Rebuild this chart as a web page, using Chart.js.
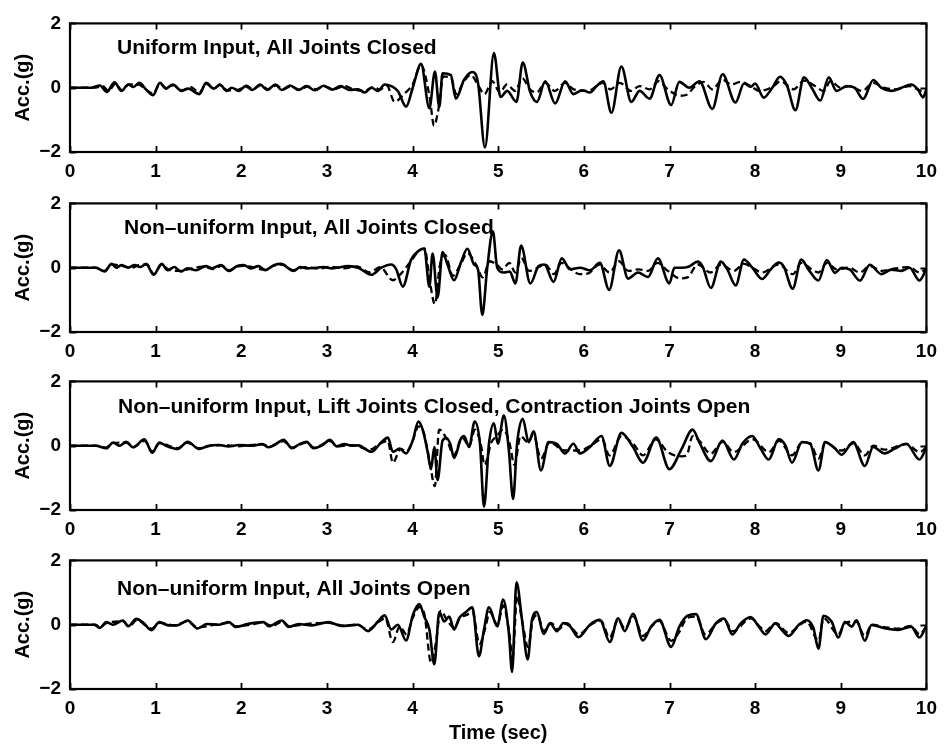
<!DOCTYPE html>
<html>
<head>
<meta charset="utf-8">
<script src="https://cdn.jsdelivr.net/npm/chart.js@4.4.1/dist/chart.umd.min.js"></script>
<style>
  html, body { margin: 0; padding: 0; background: #fff; }
  body { width: 945px; height: 750px; position: relative; overflow: hidden; }
  canvas { position: absolute; left: 0; }
</style>
</head>
<body>
<canvas id="panel0"></canvas>
<canvas id="panel1"></canvas>
<canvas id="panel2"></canvas>
<canvas id="panel3"></canvas>
<script>
// Tick values shared by all four panels
const timeTicks = [0, 1, 2, 3, 4, 5, 6, 7, 8, 9, 10];
const accTicks = [-2, 0, 2];

const panelTitles = [
  'Uniform Input, All Joints Closed',
  'Non\u2013uniform Input, All Joints Closed',
  'Non\u2013uniform Input, Lift Joints Closed, Contraction Joints Open',
  'Non\u2013uniform Input, All Joints Open'
];

// Acceleration records, [time (s), acceleration (g)]
const uniformClosedSolid = [
  [0,0],[0.25,0],[0.35,0.07],[0.43,-0.13],[0.52,0.17],[0.6,-0.1],[0.68,0.1],[0.74,0.02],[0.81,0.15],[0.89,-0.06],
  [0.97,-0.23],[1.05,0.15],[1.12,-0.03],[1.2,0.1],[1.3,-0.1],[1.38,-0.03],[1.51,-0.2],[1.59,0.15],[1.68,-0.03],[1.75,0.1],
  [1.83,-0.1],[1.89,0.0],[1.97,-0.1],[2.05,0.05],[2.13,-0.07],[2.22,0.1],[2.3,-0.07],[2.4,0.1],[2.47,-0.07],[2.57,0.07],
  [2.67,-0.07],[2.76,0.05],[2.86,-0.08],[2.96,0.06],[3.06,-0.06],[3.16,0.05],[3.26,-0.07],[3.364,-0.05],[3.441,-0.15],[3.519,0],
  [3.596,-0.1],[3.674,0.1],[3.751,0.05],[3.828,-0.1],[3.925,-0.59],[4.002,0.0],[4.099,0.74],[4.196,-0.64],[4.261,0.5],[4.312,-0.6],
  [4.35,0.45],[4.447,0.39],[4.505,-0.34],[4.602,0.25],[4.698,0.49],[4.764,0.15],[4.845,-1.86],[4.95,1.08],[5.027,-0.29],[5.104,-0.1],
  [5.213,-0.44],[5.286,0.78],[5.375,-0.15],[5.452,-0.44],[5.549,0.2],[5.665,-0.49],[5.781,0.2],[5.878,-0.2],[5.98,-0.08],[6.071,-0.15],
  [6.148,0.05],[6.226,0.2],[6.322,-0.78],[6.438,0.66],[6.554,-0.44],[6.651,-0.1],[6.767,-0.34],[6.883,0.39],[7.019,-0.54],[7.115,0.18],
  [7.23,0],[7.35,0.2],[7.5,-0.66],[7.62,0.42],[7.77,-0.46],[7.87,0.13],[7.95,0.03],[8.0,0.13],[8.1,-0.31],[8.2,0],
  [8.29,0.34],[8.37,0.08],[8.47,-0.7],[8.57,0.32],[8.66,0],[8.76,-0.4],[8.86,0.32],[8.95,-0.1],[9.07,0.05],[9.16,0],
  [9.26,-0.35],[9.38,0.24],[9.47,0],[9.59,-0.1],[9.71,0],[9.82,0.1],[9.9,-0.05],[9.96,-0.3],[10,-0.05]
];
const uniformClosedDashed = [
  [0,0],[0.3,0],[0.38,0.05],[0.45,-0.1],[0.53,0.12],[0.61,-0.08],[0.69,0.1],[0.8,0.1],[0.88,-0.05],[0.97,-0.18],
  [1.05,0.12],[1.13,-0.02],[1.21,0.08],[1.31,-0.08],[1.41,0.02],[1.51,-0.15],[1.59,0.12],[1.68,-0.03],[1.75,0.08],[1.84,-0.08],
  [1.97,-0.06],[2.06,0.06],[2.14,-0.05],[2.23,0.08],[2.31,-0.05],[2.41,0.07],[2.49,-0.05],[2.58,0.05],[2.68,-0.06],[2.78,0.04],
  [2.87,-0.05],[2.97,0.04],[3.08,-0.05],[3.2,0.05],[3.32,-0.06],[3.44,-0.1],[3.54,0.02],[3.62,-0.06],[3.7,0.06],[3.79,-0.44],
  [3.9,-0.2],[4.0,0.1],[4.1,0.7],[4.2,-0.3],[4.25,-1.18],[4.3,-0.7],[4.36,0.35],[4.45,0.3],[4.51,-0.2],[4.6,0.2],
  [4.68,0.4],[4.76,0.1],[4.84,-0.2],[4.93,0.2],[5.02,-0.15],[5.1,0.1],[5.2,-0.1],[5.28,0.3],[5.37,-0.05],[5.45,-0.15],
  [5.55,0.15],[5.66,-0.1],[5.78,0.15],[5.88,-0.05],[6.05,-0.1],[6.15,0.05],[6.22,0.15],[6.31,-0.05],[6.42,0.15],[6.55,-0.1],
  [6.65,0.05],[6.77,-0.05],[6.87,0.2],[6.98,-0.05],[7.12,-0.25],[7.2,-0.22],[7.3,0.05],[7.4,0.18],[7.5,-0.05],[7.62,0.25],
  [7.72,0.1],[7.83,0.18],[7.95,0.05],[8.05,-0.1],[8.2,0.02],[8.3,0.2],[8.45,-0.05],[8.57,0.22],[8.7,0.05],[8.8,-0.1],
  [8.88,0.2],[9.0,0.0],[9.1,0.05],[9.25,-0.1],[9.38,0.15],[9.5,0.0],[9.65,-0.05],[9.8,0.05],[9.95,-0.1],[10,-0.05]
];

const nonUniformClosedSolid = [
  [0,0],[0.3,0],[0.406,-0.12],[0.484,0.12],[0.54,0.0],[0.6,0.08],[0.68,0.0],[0.754,0.08],[0.82,0.02],[0.89,0.12],
  [0.975,-0.22],[1.071,0.12],[1.14,-0.08],[1.22,0.02],[1.295,-0.12],[1.37,-0.02],[1.47,-0.08],[1.585,0.05],[1.66,-0.02],[1.76,0.08],
  [1.856,-0.1],[1.953,0.05],[2.03,0.08],[2.11,-0.02],[2.2,0.05],[2.28,-0.08],[2.38,0.08],[2.47,0.12],[2.54,0.0],[2.61,-0.1],
  [2.69,0.02],[2.77,-0.02],[2.87,0.0],[2.96,0.02],[3.06,-0.02],[3.25,0.05],[3.364,0],[3.519,-0.22],[3.635,0],[3.751,0.1],
  [3.809,-0.05],[3.886,-0.59],[3.983,0.25],[4.079,0.54],[4.137,0.59],[4.196,-0.59],[4.234,0.44],[4.292,-0.93],[4.35,0.49],[4.408,0.1],
  [4.485,-0.39],[4.563,0.15],[4.64,0.59],[4.718,0.1],[4.764,-0.05],[4.814,-1.47],[4.872,0],[4.938,1.13],[4.988,0],[5.066,-0.15],
  [5.135,-0.12],[5.201,-0.49],[5.267,0.69],[5.375,-0.49],[5.472,0.05],[5.538,0.1],[5.646,-0.44],[5.742,0.29],[5.839,-0.05],[5.955,0],
  [6.071,-0.08],[6.187,0.15],[6.295,-0.69],[6.411,0.54],[6.516,-0.34],[6.632,-0.15],[6.748,-0.29],[6.864,0.29],[6.999,-0.49],[7.057,0],
  [7.135,0],[7.23,0.04],[7.328,0.19],[7.386,0.04],[7.483,-0.63],[7.599,0.19],[7.676,-0.06],[7.773,-0.55],[7.869,0.25],[7.966,0],
  [8.082,-0.35],[8.179,-0.06],[8.275,0.16],[8.333,0.04],[8.438,-0.65],[8.539,0.25],[8.623,-0.06],[8.739,-0.4],[8.836,0.24],[8.933,-0.16],
  [9.01,0],[9.107,-0.06],[9.223,-0.4],[9.339,0.09],[9.474,-0.2],[9.591,-0.06],[9.707,-0.1],[9.803,0],[9.919,-0.4],[9.996,-0.06]
];
const nonUniformClosedDashed = [
  [0,0],[0.3,0],[0.4,-0.1],[0.49,0.1],[0.6,0.06],[0.72,0.0],[0.8,0.08],[0.9,0.1],[0.98,-0.2],[1.07,0.1],
  [1.15,-0.06],[1.3,-0.1],[1.42,-0.02],[1.55,0.03],[1.68,-0.04],[1.77,0.06],[1.86,-0.08],[1.96,0.04],[2.05,0.06],[2.18,-0.02],
  [2.28,-0.06],[2.38,0.06],[2.48,0.1],[2.6,-0.08],[2.75,0.02],[2.9,-0.03],[3.05,0.03],[3.2,-0.02],[3.35,0.04],[3.5,-0.15],
  [3.62,0.02],[3.77,-0.39],[3.86,-0.2],[3.98,0.2],[4.08,0.55],[4.14,0.6],[4.2,-0.4],[4.26,-1.13],[4.32,0.1],[4.38,0.4],
  [4.47,-0.25],[4.56,0.1],[4.64,0.45],[4.74,0.1],[4.82,-0.3],[4.9,0.2],[4.98,0.1],[5.05,-0.05],[5.13,0.15],[5.2,-0.15],
  [5.27,0.3],[5.36,-0.1],[5.46,0.0],[5.55,0.1],[5.65,-0.2],[5.74,0.15],[5.85,-0.05],[5.95,-0.2],[6.05,-0.18],[6.18,0.1],
  [6.3,-0.15],[6.41,0.2],[6.52,-0.1],[6.64,-0.05],[6.75,-0.1],[6.86,0.15],[6.98,-0.1],[7.12,-0.33],[7.21,-0.3],[7.33,0.1],
  [7.48,-0.15],[7.6,0.1],[7.75,-0.1],[7.87,0.12],[7.98,-0.02],[8.08,-0.15],[8.27,0.1],[8.44,-0.2],[8.54,0.15],[8.66,-0.05],
  [8.74,-0.15],[8.84,0.15],[8.95,-0.05],[9.1,0.0],[9.22,-0.15],[9.34,0.05],[9.48,-0.1],[9.62,-0.03],[9.8,0.02],[9.92,-0.15],[10,-0.03]
];

const contractionOpenSolid = [
  [0,0],[0.3,0],[0.425,-0.08],[0.503,0.1],[0.58,0.0],[0.657,0.12],[0.735,-0.05],[0.87,0.2],[0.959,-0.22],[1.044,0.1],
  [1.12,0.0],[1.257,-0.1],[1.373,0.12],[1.508,-0.1],[1.62,0.0],[1.74,0.02],[1.85,-0.02],[1.97,0.02],[2.12,0.0],[2.243,0.05],
  [2.32,-0.05],[2.4,0.05],[2.494,0.18],[2.591,-0.08],[2.68,0.05],[2.765,0.12],[2.842,-0.08],[2.94,0.0],[3.036,0.18],[3.113,-0.02],
  [3.2,0.05],[3.3,0.0],[3.364,0.01],[3.519,-0.19],[3.635,0.11],[3.712,0.25],[3.77,-0.19],[3.848,-0.09],[3.925,-0.24],[4.002,0.16],
  [4.068,0.75],[4.118,0.5],[4.176,-0.19],[4.215,-0.73],[4.254,-0.04],[4.292,-1.07],[4.35,0.16],[4.397,0.24],[4.439,0.06],[4.485,-0.38],
  [4.563,0.21],[4.601,0.3],[4.66,-0.04],[4.725,0.75],[4.787,0.06],[4.834,-1.9],[4.892,0.06],[4.95,0.7],[4.996,0.06],[5.066,0.94],
  [5.124,-0.14],[5.174,-1.66],[5.22,0.06],[5.286,0.84],[5.356,0.11],[5.414,0.45],[5.499,-0.77],[5.588,0.11],[5.684,0.06],[5.781,-0.24],
  [5.878,0.06],[5.955,-0.24],[6.071,-0.04],[6.206,0.3],[6.303,-0.63],[6.438,0.4],[6.574,-0.04],[6.69,-0.53],[6.845,0.25],[6.999,-0.73],
  [7.135,-0.14],[7.27,0.5],[7.347,0.11],[7.483,-0.48],[7.618,0.16],[7.753,-0.43],[7.85,0.06],[7.966,0.3],[8.063,-0.09],[8.159,-0.43],
  [8.275,0.21],[8.353,0.01],[8.43,-0.53],[8.546,0.11],[8.643,0.06],[8.739,-0.77],[8.817,0.11],[8.933,-0.09],[9.01,-0.28],[9.145,0.11],
  [9.281,-0.63],[9.378,-0.04],[9.513,-0.24],[9.629,-0.09],[9.765,0.06],[9.919,-0.43],[9.996,-0.09]
];
const contractionOpenDashed = [
  [0,0],[0.3,0],[0.42,-0.06],[0.5,0.08],[0.66,0.1],[0.74,-0.04],[0.87,0.15],[0.96,-0.18],[1.05,0.08],[1.26,-0.08],
  [1.37,0.1],[1.5,-0.08],[1.65,0],[1.8,0.02],[1.95,-0.02],[2.1,0.02],[2.25,0.04],[2.33,-0.03],[2.49,0.14],[2.59,-0.06],
  [2.76,0.1],[2.85,-0.06],[3.04,0.14],[3.12,-0.02],[3.3,0.02],[3.5,-0.12],[3.63,0.08],[3.71,0.15],[3.77,-0.53],[3.86,-0.1],
  [3.93,-0.18],[4.0,0.15],[4.07,0.6],[4.13,0.4],[4.2,-0.5],[4.26,-1.26],[4.31,0.5],[4.4,0.2],[4.48,-0.3],[4.58,0.25],
  [4.66,0.0],[4.73,0.5],[4.8,0.0],[4.84,-0.6],[4.92,0.1],[4.98,0.3],[5.06,0.5],[5.13,0.1],[5.19,-0.6],[5.26,0.3],
  [5.35,0.1],[5.41,0.35],[5.5,-0.4],[5.6,0.1],[5.78,-0.15],[5.95,-0.15],[6.08,0.0],[6.21,0.2],[6.3,-0.3],[6.44,0.3],
  [6.58,0.05],[6.69,-0.3],[6.84,0.2],[6.98,-0.2],[7.14,-0.33],[7.2,-0.3],[7.27,0.3],[7.35,0.15],[7.48,-0.25],[7.62,0.12],
  [7.75,-0.2],[7.97,0.2],[8.16,-0.2],[8.28,0.15],[8.43,-0.3],[8.55,0.1],[8.64,0.08],[8.74,-0.4],[8.82,0.08],[9.01,-0.15],
  [9.15,0.08],[9.28,-0.3],[9.38,0.0],[9.51,-0.12],[9.77,0.05],[9.92,-0.2],[10,-0.05]
];

const allOpenSolid = [
  [0,0],[0.28,0],[0.348,-0.1],[0.425,0.08],[0.5,0.0],[0.619,0.13],[0.68,-0.05],[0.774,0.18],[0.86,0.05],[0.948,-0.17],
  [1.044,0.08],[1.15,-0.02],[1.25,-0.02],[1.373,0.13],[1.489,-0.12],[1.6,0.02],[1.73,0.0],[1.856,0.08],[1.934,-0.07],[2.07,0.02],
  [2.262,0.08],[2.32,-0.05],[2.475,0.13],[2.552,-0.07],[2.67,0.02],[2.82,-0.02],[3.016,0.08],[3.17,-0.04],[3.364,0],[3.48,-0.2],
  [3.596,0.1],[3.674,0.29],[3.751,-0.15],[3.828,0],[3.925,-0.49],[4.002,0.29],[4.079,0.64],[4.137,0.25],[4.196,-0.15],[4.254,-1.23],
  [4.312,0.39],[4.37,0.1],[4.428,0.25],[4.485,-0.15],[4.543,0.2],[4.621,0.39],[4.698,0.54],[4.775,-0.98],[4.834,-0.15],[4.892,0.54],
  [4.988,-0.05],[5.058,0.78],[5.124,-0.25],[5.162,-1.47],[5.213,1.32],[5.278,0.15],[5.344,-1.08],[5.394,0.15],[5.452,0.39],[5.53,-0.29],
  [5.607,0.05],[5.684,-0.2],[5.762,0.05],[5.839,-0.05],[5.936,-0.39],[6.071,0],[6.187,0.15],[6.303,-0.54],[6.4,0.2],[6.477,-0.2],
  [6.574,0.34],[6.69,-0.49],[6.787,-0.05],[6.883,0.15],[7.019,-0.69],[7.115,-0.06],[7.212,0.28],[7.309,0.33],[7.425,-0.45],[7.541,0.04],
  [7.637,0.19],[7.734,-0.3],[7.831,0.04],[7.947,0.24],[8.043,-0.06],[8.121,-0.3],[8.237,0.04],[8.295,-0.11],[8.391,-0.35],[8.507,-0.01],
  [8.604,0.14],[8.681,-0.11],[8.739,-0.75],[8.797,0.28],[8.894,0.09],[8.971,-0.4],[9.049,0.09],[9.126,-0.06],[9.184,0.14],[9.281,-0.5],
  [9.358,-0.01],[9.513,-0.11],[9.667,-0.16],[9.822,-0.06],[9.919,-0.4],[9.996,-0.06]
];
const allOpenDashed = [
  [0,0],[0.3,0],[0.35,-0.08],[0.43,0.06],[0.62,0.1],[0.69,-0.05],[0.78,0.14],[0.95,-0.12],[1.05,0.06],[1.22,-0.02],
  [1.37,0.1],[1.49,-0.08],[1.7,0.0],[1.86,0.06],[1.94,-0.05],[2.1,0.0],[2.26,0.06],[2.36,-0.04],[2.48,0.1],[2.56,-0.05],
  [2.75,0.02],[3.02,0.06],[3.2,-0.03],[3.35,0.0],[3.48,-0.15],[3.6,0.08],[3.68,0.2],[3.77,-0.54],[3.85,-0.05],[3.93,-0.3],
  [4.0,0.2],[4.08,0.55],[4.14,0.3],[4.215,-1.18],[4.27,-0.6],[4.33,0.44],[4.4,0.15],[4.49,-0.1],[4.55,0.2],[4.63,0.3],
  [4.7,0.4],[4.78,-0.6],[4.85,-0.1],[4.9,0.4],[4.99,0.0],[5.06,0.6],[5.12,-0.1],[5.17,-1.0],[5.22,0.9],[5.28,0.1],
  [5.35,-0.7],[5.4,0.1],[5.46,0.3],[5.53,-0.2],[5.62,0.05],[5.7,-0.15],[5.8,0.05],[5.94,-0.3],[6.08,0.0],[6.2,0.12],
  [6.3,-0.4],[6.4,0.15],[6.48,-0.12],[6.58,0.25],[6.69,-0.35],[6.8,-0.03],[6.88,0.12],[7.02,-0.5],[7.12,-0.2],[7.2,0.2],
  [7.31,0.25],[7.42,-0.3],[7.55,0.05],[7.64,0.15],[7.74,-0.2],[7.95,0.2],[8.05,-0.05],[8.12,-0.2],[8.24,0.05],[8.39,-0.25],
  [8.6,0.1],[8.74,-0.5],[8.8,0.2],[8.97,-0.3],[9.05,0.05],[9.18,0.1],[9.28,-0.35],[9.36,0.0],[9.52,-0.08],[9.67,-0.12],
  [9.82,-0.04],[9.92,-0.3],[10,-0.05]
];

const panelSeries = [
  [uniformClosedSolid, uniformClosedDashed],
  [nonUniformClosedSolid, nonUniformClosedDashed],
  [contractionOpenSolid, contractionOpenDashed],
  [allOpenSolid, allOpenDashed]
];

// Layout of the stacked panels (plot-area top edge and caption placement)
const FONT = '"Liberation Sans", Arial, Helvetica, sans-serif';
const PLOT_H = 135;
const PAD_TOP = 14;
const panelTops = [17, 197, 375, 554];
const captionDx = [47, 54, 48, 47];
const captionDy = [31, 31, 32, 35];

// Frame with inward tick marks on all four sides, plus the caption inside the plot
const framePlugin = {
  id: 'frame',
  afterDatasetsDraw(chart, args, opts) {
    const { ctx, chartArea: a, scales } = chart;
    const xs = scales.x, ys = scales.y;
    ctx.save();
    ctx.strokeStyle = '#000';
    ctx.lineWidth = 2.2;
    ctx.strokeRect(a.left, a.top, a.right - a.left, a.bottom - a.top);
    ctx.lineWidth = 1.8;
    ctx.beginPath();
    timeTicks.forEach(t => {
      const px = Math.round(xs.getPixelForValue(t)) + 0.5;
      ctx.moveTo(px, a.bottom); ctx.lineTo(px, a.bottom - 6);
      ctx.moveTo(px, a.top); ctx.lineTo(px, a.top + 6);
    });
    accTicks.forEach(v => {
      const py = Math.round(ys.getPixelForValue(v)) + 0.5;
      ctx.moveTo(a.left, py); ctx.lineTo(a.left + 6, py);
      ctx.moveTo(a.right, py); ctx.lineTo(a.right - 6, py);
    });
    ctx.stroke();
    ctx.fillStyle = '#000';
    ctx.font = 'bold 21px ' + FONT;
    ctx.textBaseline = 'alphabetic';
    ctx.textAlign = 'left';
    ctx.fillText(opts.text, a.left + opts.dx, a.top + opts.dy);
    ctx.restore();
  }
};

function toPoints(arr) {
  return arr.map(([x, y]) => ({ x, y }));
}

function makePanel(i) {
  const isLast = i === panelTops.length - 1;
  const canvas = document.getElementById('panel' + i);
  const height = isLast ? 750 - (panelTops[i] - PAD_TOP) : 178;
  canvas.width = 945;
  canvas.height = height;
  canvas.style.top = (panelTops[i] - PAD_TOP) + 'px';
  const xHeight = height - PAD_TOP - PLOT_H;
  const [solid, dashed] = panelSeries[i];

  new Chart(canvas, {
    type: 'line',
    data: {
      datasets: [
        {
          data: toPoints(dashed),
          borderColor: '#000', borderWidth: 2.3, borderDash: [7, 4],
          pointRadius: 0, fill: false, cubicInterpolationMode: 'monotone'
        },
        {
          data: toPoints(solid),
          borderColor: '#000', borderWidth: 2.6,
          pointRadius: 0, fill: false, cubicInterpolationMode: 'monotone'
        }
      ]
    },
    options: {
      responsive: false,
      animation: false,
      devicePixelRatio: 1,
      layout: { padding: { top: PAD_TOP, right: 12, left: 0, bottom: 0 } },
      plugins: {
        legend: { display: false },
        tooltip: { enabled: false },
        frame: { text: panelTitles[i], dx: captionDx[i], dy: captionDy[i] }
      },
      scales: {
        x: {
          type: 'linear', min: 0, max: 10,
          afterBuildTicks: s => { s.ticks = timeTicks.map(v => ({ value: v })); },
          afterFit: s => { s.height = xHeight; },
          grid: { display: false, drawTicks: false },
          border: { display: false },
          ticks: { color: '#000', font: { family: FONT, size: 19, weight: 'bold' }, padding: 8, maxRotation: 0, autoSkip: false },
          title: {
            display: isLast, text: 'Time (sec)', color: '#000',
            font: { family: FONT, size: 20, weight: 'bold' }, padding: { top: 0, bottom: 5 }
          }
        },
        y: {
          type: 'linear', min: -2, max: 2,
          afterBuildTicks: s => { s.ticks = accTicks.map(v => ({ value: v })); },
          afterFit: s => { s.width = 70; },
          grid: { display: false, drawTicks: false },
          border: { display: false },
          ticks: {
            color: '#000', font: { family: FONT, size: 19, weight: 'bold' }, padding: 9,
            callback: v => (v < 0 ? '\u2212' + Math.abs(v) : String(v))
          },
          title: {
            display: true, text: 'Acc.(g)', color: '#000',
            font: { family: FONT, size: 20, weight: 'bold' }, padding: { top: 11, bottom: 0 }
          }
        }
      }
    },
    plugins: [framePlugin]
  });
}

panelTops.forEach((_, i) => makePanel(i));
</script>
</body>
</html>
